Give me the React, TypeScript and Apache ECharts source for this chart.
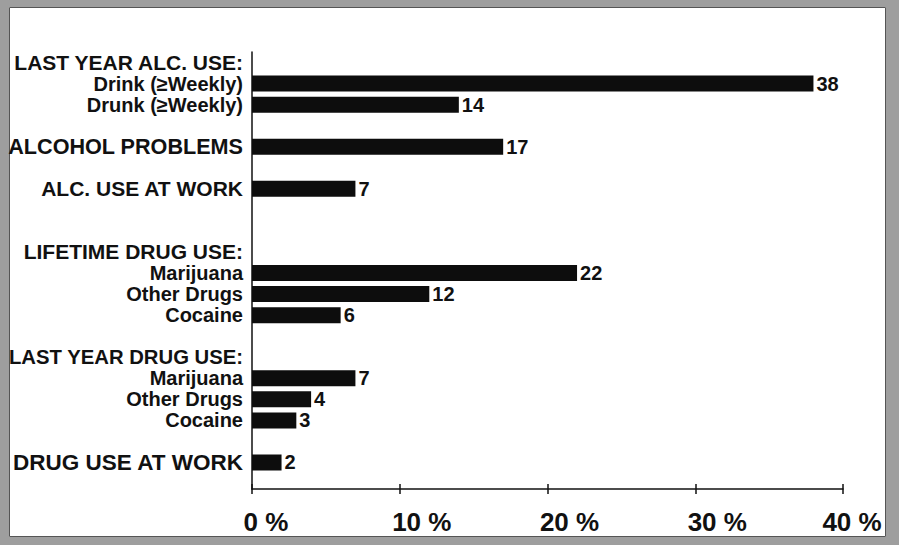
import React, { useEffect, useRef } from "react";
import * as echarts from "echarts";

const categories: string[] = [
  "LAST YEAR ALC. USE:",
  "Drink (≥Weekly)",
  "Drunk (≥Weekly)",
  "",
  "ALCOHOL PROBLEMS",
  "",
  "ALC. USE AT WORK",
  "",
  "",
  "LIFETIME DRUG USE:",
  "Marijuana",
  "Other Drugs",
  "Cocaine",
  "",
  "LAST YEAR DRUG USE:",
  "Marijuana",
  "Other Drugs",
  "Cocaine",
  "",
  "DRUG USE AT WORK",
];

const percentages: (number | null)[] = [
  null, 38, 14, null, 17, null, 7, null, null, null,
  22, 12, 6, null, null, 7, 4, 3, null, 2,
];

const tickValues: number[] = [0, 10, 20, 30, 40];
const tickLabels: string[] = ["0 %", "10 %", "20 %", "30 %", "40 %"];

const FONT = "'Liberation Sans', Arial, sans-serif";
const FRAME = "#9e9e9e";

// label-specific font sizes to imitate the wide geometric typeface of the original
const labelStyleKey: Record<string, string> = {
  "LAST YEAR DRUG USE:": "n",
  "DRUG USE AT WORK": "w",
  "ALCOHOL PROBLEMS": "m",
};

export default function App() {
  const ref = useRef<HTMLDivElement>(null);

  useEffect(() => {
    if (!ref.current) return;
    const chart = echarts.init(ref.current, null, { renderer: "svg" });
    const xMin = tickValues[0];
    const xMax = tickValues[tickValues.length - 1];
    const tickStyle = { fontFamily: FONT, fontWeight: "bold", fontSize: 26, color: "#111" };
    const catStyle = (size: number) => ({
      fontFamily: FONT,
      fontWeight: "bold",
      fontSize: size,
      lineHeight: 20,
      color: "#111",
    });
    chart.setOption({
      animation: false,
      backgroundColor: "#ffffff",
      grid: [
        { left: 252, top: 52, width: 591, height: 421, containLabel: false, outerBoundsMode: "none" },
        { left: 252, top: 52, width: 591, height: 437, containLabel: false, outerBoundsMode: "none" },
      ],
      xAxis: [
        {
          gridIndex: 0,
          type: "value",
          min: xMin,
          max: xMax,
          interval: 10,
          axisLine: { show: false },
          axisTick: { show: false },
          axisLabel: { show: false },
          splitLine: { show: false },
        },
        {
          gridIndex: 1,
          type: "value",
          min: xMin,
          max: xMax,
          interval: 10,
          axisLine: { show: true, onZero: false, lineStyle: { color: "#111", width: 1.5 } },
          axisTick: { show: true, length: 5, lineStyle: { color: "#111", width: 1.5 } },
          splitLine: { show: false },
          axisLabel: {
            margin: 20,
            formatter: (v: number) => {
              const i = tickValues.indexOf(v);
              if (i < 0) return "";
              const key = i === 0 ? "a" : i === tickValues.length - 1 ? "c" : "b";
              return `{${key}|${tickLabels[i]}}`;
            },
            rich: {
              a: { ...tickStyle, padding: [0, 0, 0, 28] },
              b: { ...tickStyle, padding: [0, 0, 0, 44] },
              c: { ...tickStyle, padding: [0, 0, 0, 18] },
            },
          },
        },
        {
          gridIndex: 1,
          type: "value",
          min: xMin,
          max: xMax,
          interval: 10,
          position: "bottom",
          axisLine: { show: false },
          axisTick: { show: true, inside: true, length: 5, lineStyle: { color: "#111", width: 1.5 } },
          axisLabel: { show: false },
          splitLine: { show: false },
        },
      ],
      yAxis: [
        {
          gridIndex: 0,
          type: "category",
          inverse: true,
          data: categories,
          axisLine: { show: false },
          axisTick: { show: false },
          axisLabel: {
            margin: 9,
            interval: 0,
            formatter: (v: string) => {
              if (!v) return "";
              const upper = v === v.toUpperCase();
              const key = labelStyleKey[v] || (upper ? "u" : "l");
              return `{${key}|${v}}`;
            },
            rich: {
              u: catStyle(21),
              n: catStyle(20.3),
              w: catStyle(22.5),
              m: catStyle(21.6),
              l: catStyle(20),
            },
          },
        },
        {
          gridIndex: 1,
          type: "value",
          min: 0,
          max: 1,
          axisLine: { show: true, onZero: false, lineStyle: { color: "#111", width: 1.5 } },
          axisTick: { show: false },
          axisLabel: { show: false },
          splitLine: { show: false },
        },
      ],
      series: [
        {
          type: "bar",
          xAxisIndex: 0,
          yAxisIndex: 0,
          data: percentages,
          barWidth: 16,
          itemStyle: { color: "#0d0d0d" },
          label: {
            show: true,
            position: "right",
            distance: 3,
            fontFamily: FONT,
            fontWeight: "bold",
            fontSize: 20,
            color: "#111",
            formatter: (p: any) => (p.value == null ? "" : String(p.value)),
          },
        },
      ],
      graphic: [
        { type: "rect", silent: true, shape: { x: 0, y: 0, width: 9, height: 545 }, style: { fill: FRAME } },
        { type: "rect", silent: true, shape: { x: 0, y: 0, width: 899, height: 7 }, style: { fill: FRAME } },
        { type: "rect", silent: true, shape: { x: 886, y: 0, width: 13, height: 545 }, style: { fill: FRAME } },
        { type: "rect", silent: true, shape: { x: 0, y: 537, width: 899, height: 8 }, style: { fill: FRAME } },
        {
          type: "rect",
          silent: true,
          shape: { x: 9.5, y: 7.5, width: 876, height: 529 },
          style: { fill: "none", stroke: "#555", lineWidth: 1 },
        },
      ],
    });
    return () => chart.dispose();
  }, []);

  return (
    <div
      ref={ref}
      style={{ position: "fixed", left: 0, top: 0, width: 899, height: 545 }}
    />
  );
}
